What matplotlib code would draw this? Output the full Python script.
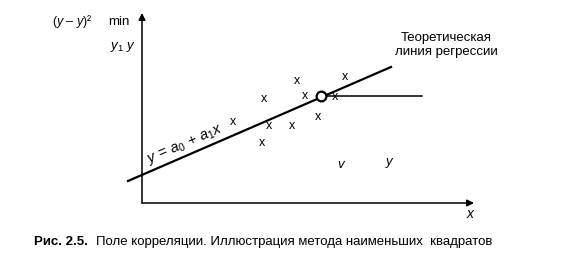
import matplotlib
matplotlib.use("Agg")
import matplotlib.pyplot as plt

plt.rcParams["font.family"] = ["Liberation Sans", "DejaVu Sans"]
plt.rcParams["mathtext.fontset"] = "custom"
plt.rcParams["mathtext.rm"] = "Liberation Sans"
plt.rcParams["mathtext.it"] = "Liberation Sans:italic"

# scatter points (pixel-like coordinates of the picture)
pts_x = [297, 345, 264, 305, 335, 233, 269, 292, 318, 262]
pts_y = [81, 77, 99, 96, 97, 122, 126, 126, 117, 143]

# regression line ends and the marked point
line_x = [128, 391]
line_y = [181, 67]
mark_x, mark_y = 321, 96
hline_end = 422

# axes
origin = (142, 203)
x_tip = 474
y_tip = 13

fig = plt.figure(figsize=(5.71, 2.61), dpi=100)
ax = fig.add_axes([0, 0, 1, 1])
ax.set_xlim(0, 571)
ax.set_ylim(261, 0)
ax.axis("off")

# coordinate axes with arrows
ax.annotate("", xy=(x_tip, origin[1]), xytext=origin,
            arrowprops=dict(arrowstyle="-|>", color="black", lw=1.1,
                            mutation_scale=10, shrinkA=0, shrinkB=0))
ax.annotate("", xy=(origin[0], y_tip), xytext=origin,
            arrowprops=dict(arrowstyle="-|>", color="black", lw=1.1,
                            mutation_scale=10, shrinkA=0, shrinkB=0))

# regression line
ax.plot(line_x, line_y, color="black", lw=1.6)
ax.plot([mark_x, hline_end], [mark_y, mark_y], color="black", lw=1.1)
ax.plot(mark_x, mark_y, "o", ms=7, mfc="white", mec="black", mew=1.6, zorder=5)

# points drawn as letters "x"
for px, py in zip(pts_x, pts_y):
    ax.text(px, py, "x", fontsize=9, ha="center", va="center")

ax.text(149, 163, r"$y\,=\,a_0\,+\,a_1x$", fontsize=10.5, rotation=23.4,
        ha="left", va="baseline", rotation_mode="anchor")

ax.text(446, 45, "Теоретическая\nлиния регрессии", fontsize=9.5,
        ha="center", va="center", linespacing=1.25)

ax.text(52, 22, r"($y$ – $y$)²", fontsize=9, ha="left", va="center")
ax.text(108, 22, "min", fontsize=9.5, ha="left", va="center")
ax.text(110, 47, r"$y_1$ $y$", fontsize=9.5, ha="left", va="center")

ax.text(341, 165, "v", fontsize=9.5, ha="center", va="center", style="italic")
ax.text(389, 162, "y", fontsize=9.5, ha="center", va="center", style="italic")
ax.text(470, 214, "x", fontsize=10, ha="center", va="center", style="italic")

ax.text(34, 242, "Рис. 2.5.", fontsize=9.5, weight="bold", ha="left", va="center")
ax.text(96, 242, "Поле корреляции. Иллюстрация метода наименьших  квадратов",
        fontsize=9.5, ha="left", va="center")

fig.savefig("out.png", dpi=100)
